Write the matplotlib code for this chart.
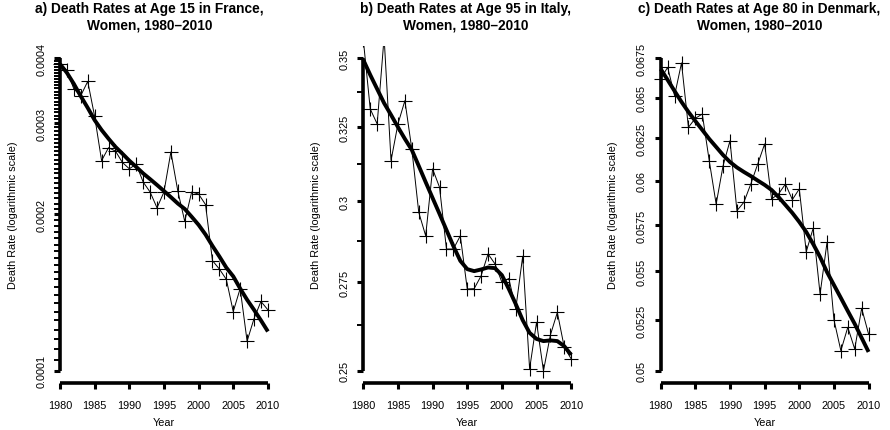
import numpy as np
import matplotlib
matplotlib.use('Agg')
import matplotlib.pyplot as plt
from matplotlib.ticker import FixedLocator, FixedFormatter, NullFormatter

plt.rcParams['font.family'] = ['Liberation Sans', 'DejaVu Sans']

years = np.arange(1980, 2011)

# observed death rates and smoothed trend, 1980-2010
france_15 = [0.000390, 0.000379, 0.000349, 0.000339, 0.000361, 0.000309, 0.000254,
             0.000269, 0.000265, 0.000252, 0.000245, 0.000250, 0.000231, 0.000221,
             0.000206, 0.000221, 0.000264, 0.000222, 0.000194, 0.000221, 0.000219,
             0.000209, 0.000163, 0.000157, 0.000150, 0.000130, 0.000144, 0.000114,
             0.000126, 0.000136, 0.000131]
france_15_trend = [0.000390, 0.000375, 0.000357, 0.000338, 0.000321, 0.000304, 0.000291,
                   0.000280, 0.000270, 0.000262, 0.000254, 0.000247, 0.000240, 0.000234,
                   0.000228, 0.000222, 0.000216, 0.000210, 0.000205, 0.000198, 0.000191,
                   0.000183, 0.000174, 0.000166, 0.000158, 0.000152, 0.000144, 0.000137,
                   0.000131, 0.000125, 0.000119]

italy_95 = [0.3570, 0.3314, 0.3261, 0.3580, 0.3135, 0.3261, 0.3344, 0.3174, 0.2965,
            0.2891, 0.3107, 0.3046, 0.2850, 0.2850, 0.2891, 0.2730, 0.2731, 0.2769,
            0.2835, 0.2805, 0.2750, 0.2761, 0.2672, 0.2828, 0.2505, 0.2634, 0.2500,
            0.2598, 0.2662, 0.2564, 0.2532]
italy_95_trend = [0.3494, 0.3438, 0.3386, 0.3335, 0.3293, 0.3250, 0.3209, 0.3171, 0.3117,
                  0.3063, 0.3011, 0.2960, 0.2909, 0.2859, 0.2814, 0.2789, 0.2783, 0.2788,
                  0.2794, 0.2792, 0.2771, 0.2730, 0.2686, 0.2640, 0.2604, 0.2587, 0.2581,
                  0.2583, 0.2581, 0.2567, 0.2543]

denmark_80 = [0.06617, 0.06692, 0.06512, 0.06720, 0.06317, 0.06372, 0.06398, 0.06118,
              0.05868, 0.06088, 0.06236, 0.05831, 0.05878, 0.05982, 0.06098, 0.06217,
              0.05897, 0.05925, 0.05982, 0.05893, 0.05954, 0.05605, 0.05733, 0.05382,
              0.05656, 0.05251, 0.05097, 0.05213, 0.05105, 0.05309, 0.05179]
denmark_80_trend = [0.06681, 0.06611, 0.06541, 0.06473, 0.06411, 0.06355, 0.06301, 0.06247,
                    0.06199, 0.06151, 0.06110, 0.06078, 0.06052, 0.06028, 0.06002, 0.05977,
                    0.05948, 0.05908, 0.05863, 0.05818, 0.05768, 0.05713, 0.05647, 0.05577,
                    0.05497, 0.05429, 0.05362, 0.05295, 0.05230, 0.05160, 0.05091]

titles = ["a) Death Rates at Age 15 in France,\nWomen, 1980\u20132010",
          "b) Death Rates at Age 95 in Italy,\nWomen, 1980\u20132010",
          "c) Death Rates at Age 80 in Denmark,\nWomen, 1980\u20132010"]

france_ticks = [0.0001, 0.0002, 0.0003, 0.0004]
france_labels = ["0.0001", "0.0002", "0.0003", "0.0004"]
italy_ticks = [0.25, 0.275, 0.3, 0.325, 0.35]
italy_labels = ["0.25", "0.275", "0.3", "0.325", "0.35"]
italy_minor = [0.2625, 0.2875, 0.3125, 0.3375]
denmark_ticks = [0.05, 0.0525, 0.055, 0.0575, 0.06, 0.0625, 0.065, 0.0675]
denmark_labels = ["0.05", "0.0525", "0.055", "0.0575", "0.06", "0.0625", "0.065", "0.0675"]

x_ticks = [1980, 1985, 1990, 1995, 2000, 2005, 2010]

france_minor = [v for v in np.arange(0.0001, 0.0004, 0.000005)
                if min(abs(v - t) for t in france_ticks) > 1e-9]

panels = [
    (france_15, france_15_trend, france_ticks, france_labels, france_minor),
    (italy_95, italy_95_trend, italy_ticks, italy_labels, italy_minor),
    (denmark_80, denmark_80_trend, denmark_ticks, denmark_labels, []),
]

fig = plt.figure(figsize=(8.9, 4.31), dpi=100)
W, H = 890.0, 431.0
lefts = [51.7, 355.0, 652.4]
title_x = [149.5, 465.5, 759.5]

for i, (obs, trend, ticks, labels, minor) in enumerate(panels):
    ax = fig.add_axes([lefts[i] / W, 1 - 384.2 / H, 224.5 / W, 337.4 / H])
    ax.plot(years, obs, color='black', lw=0.7, marker='+', ms=10, mew=0.8)
    ax.plot(years, trend, color='black', lw=2.8, solid_capstyle='butt')
    ax.set_yscale('log')

    lo, hi = np.log(ticks[0]), np.log(ticks[-1])
    pad = (hi - lo) * 0.04
    ax.set_ylim(np.exp(lo - pad), np.exp(hi + pad))
    ax.set_xlim(1980 - 1.2, 2010 + 1.2)

    for s in ['top', 'right']:
        ax.spines[s].set_visible(False)
    ax.spines['left'].set_position(('data', 1980))
    ax.spines['left'].set_bounds(ticks[0], ticks[-1])
    ax.spines['bottom'].set_bounds(1980, 2010)
    for s in ['left', 'bottom']:
        ax.spines[s].set_linewidth(2.6)
        ax.spines[s].set_capstyle('butt')

    ax.xaxis.set_major_locator(FixedLocator(x_ticks))
    ax.xaxis.set_minor_locator(FixedLocator([]))
    ax.yaxis.set_major_locator(FixedLocator(ticks))
    ax.yaxis.set_major_formatter(FixedFormatter(labels))
    ax.yaxis.set_minor_locator(FixedLocator(minor))
    ax.yaxis.set_minor_formatter(NullFormatter())

    ax.tick_params(axis='x', which='major', direction='out', length=4, width=2.2,
                   pad=8, labelsize=7.8)
    ax.tick_params(axis='y', which='major', direction='out', length=4, width=2.2,
                   pad=6, labelsize=7.8, labelrotation=90)
    ax.tick_params(axis='y', which='minor', direction='out', length=4, width=1.4)
    for lab in ax.get_yticklabels():
        lab.set_va('center')

    ax.set_xlabel('Year', fontsize=7.8)
    ax.xaxis.set_label_coords(0.5, -39 / 337.4)
    ax.xaxis.label.set_va('center')
    ax.set_ylabel('Death Rate (logarithmic scale)', fontsize=7.8)
    ax.yaxis.set_label_coords(-39 / 224.5, 0.5)
    ax.yaxis.label.set_va('center')

    fig.text(title_x[i] / W, 1 - 17.5 / H, titles[i], ha='center', va='center',
             fontsize=9.9, fontweight='bold', linespacing=1.22)

fig.savefig('out.png', dpi=100)
